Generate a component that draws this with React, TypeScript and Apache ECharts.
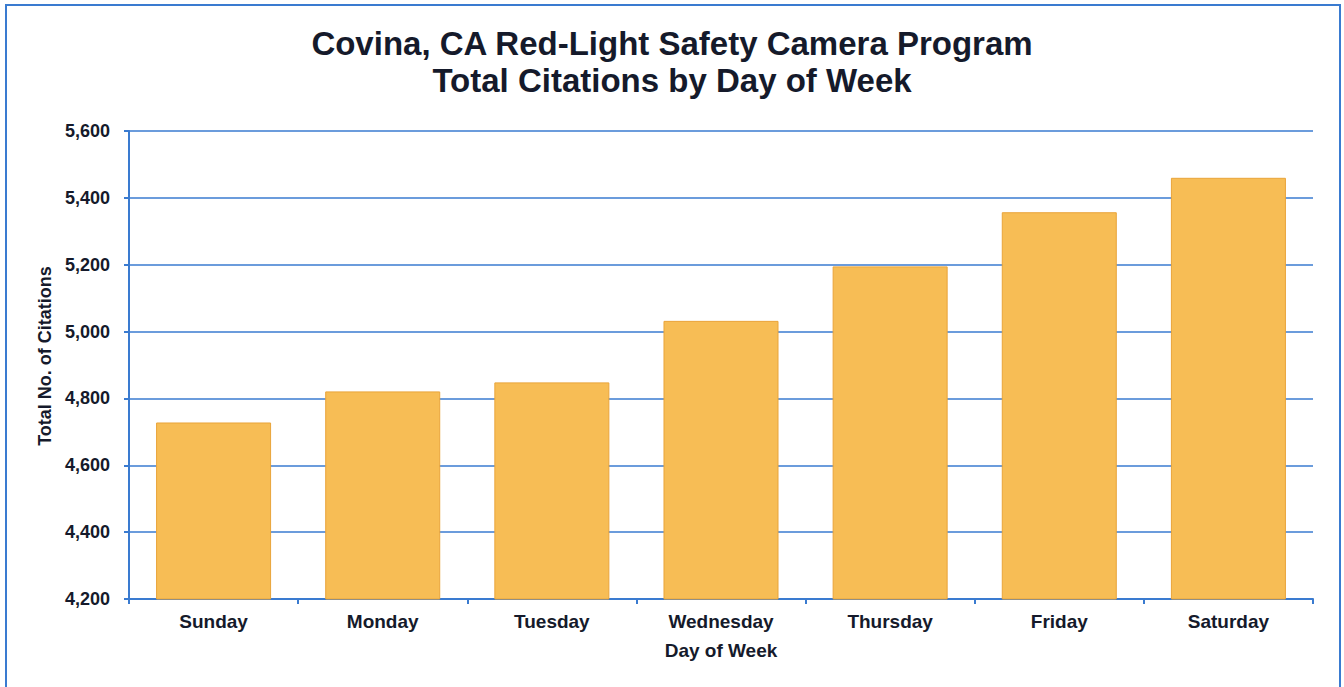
import React, { useEffect, useRef } from "react";
import * as echarts from "echarts";

const titleLines = ["Covina, CA Red-Light Safety Camera Program", "Total Citations by Day of Week"];
const days = ["Sunday", "Monday", "Tuesday", "Wednesday", "Thursday", "Friday", "Saturday"];
const citations = [4728, 4821, 4848, 5032, 5195, 5357, 5460];
const yMin = 4200;
const yMax = 5600;
const yStep = 200;
const xAxisTitle = "Day of Week";
const yAxisTitle = "Total No. of Citations";

const BLUE = "#3a7bd0";
const TEXT = "#151a2b";
const FONT = "'Liberation Sans', Arial, sans-serif";

export default function App() {
  const ref = useRef<HTMLDivElement>(null);
  useEffect(() => {
    document.body.style.margin = "0";
    const chart = echarts.init(ref.current!, null, { renderer: "svg" });
    chart.setOption({
      animation: false,
      backgroundColor: "#ffffff",
      textStyle: { fontFamily: FONT },
      title: {
        text: titleLines.join("\n"),
        left: "center",
        top: 20,
        textStyle: {
          fontFamily: FONT,
          fontSize: 33,
          fontWeight: "bold",
          color: TEXT,
          lineHeight: 37,
        },
      },
      graphic: [
        {
          type: "rect",
          shape: { x: 6, y: 5, width: 1334, height: 700 },
          style: { fill: "none", stroke: BLUE, lineWidth: 2 },
          silent: true,
          z: -1,
        },
      ],
      grid: { left: 129, right: 31, top: 131, bottom: 88 },
      xAxis: {
        type: "category",
        data: days,
        name: xAxisTitle,
        nameLocation: "middle",
        nameGap: 42,
        nameTextStyle: { fontFamily: FONT, fontSize: 19, fontWeight: "bold", color: TEXT },
        axisLine: { show: true, lineStyle: { color: BLUE, width: 2 } },
        axisTick: { show: true, alignWithLabel: false, length: 5, lineStyle: { color: BLUE, width: 2 } },
        axisLabel: { margin: 13, fontFamily: FONT, fontSize: 19, fontWeight: "bold", color: TEXT },
        splitLine: { show: false },
      },
      yAxis: {
        type: "value",
        min: yMin,
        max: yMax,
        interval: yStep,
        name: yAxisTitle,
        nameLocation: "middle",
        nameGap: 71,
        nameRotate: 90,
        nameTextStyle: {
          fontFamily: FONT,
          fontSize: 18,
          fontWeight: "bold",
          color: TEXT,
          padding: [0, 0, 0, 18],
        },
        axisLine: { show: true, lineStyle: { color: BLUE, width: 2 } },
        axisTick: { show: true, length: 5, lineStyle: { color: BLUE, width: 2 } },
        axisLabel: {
          margin: 19,
          fontFamily: FONT,
          fontSize: 18,
          fontWeight: "bold",
          color: TEXT,
          formatter: (v: number) => v.toLocaleString("en-US"),
        },
        splitLine: { show: true, lineStyle: { color: BLUE, width: 1.5 } },
      },
      series: [
        {
          type: "bar",
          data: citations,
          barCategoryGap: "32%",
          itemStyle: { color: "#f7bd55", borderColor: "#e9a43a", borderWidth: 1 },
        },
      ],
    });
    return () => chart.dispose();
  }, []);
  return <div ref={ref} style={{ position: "absolute", left: 0, top: 0, width: 1344, height: 687 }} />;
}
